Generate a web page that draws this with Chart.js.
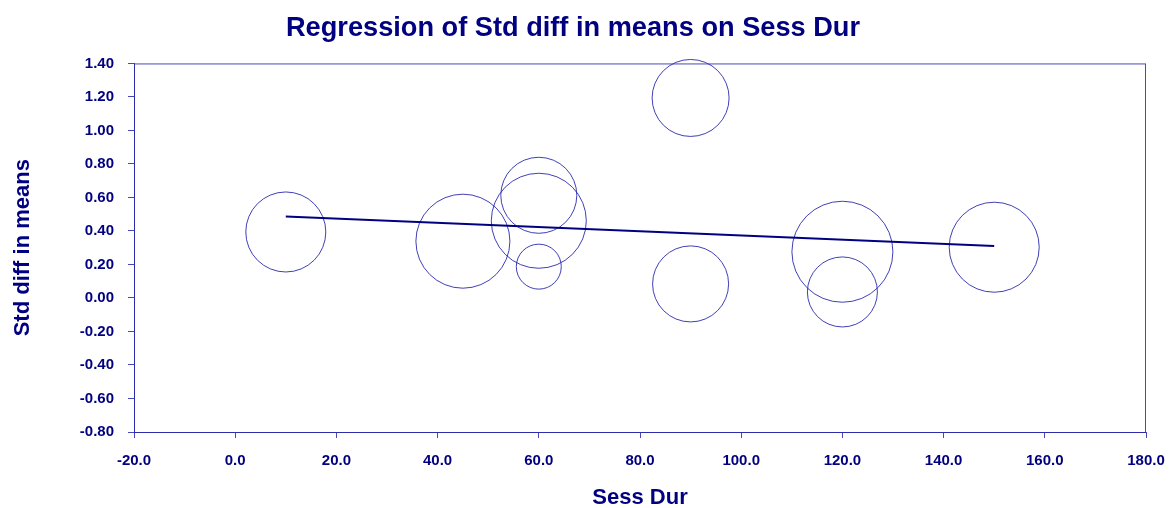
<!DOCTYPE html>
<html>
<head>
<meta charset="utf-8">
<script src="https://cdn.jsdelivr.net/npm/chart.js@4.4.1/dist/chart.umd.min.js"></script>
<style>
  html, body { margin: 0; padding: 0; background: #ffffff; }
  #wrap { width: 1176px; height: 508px; }
</style>
</head>
<body>
<div id="wrap"><canvas id="c" width="1176" height="508"></canvas></div>
<script>
// ---- Data ----
const sessDur = [10, 45, 60, 60, 60, 90, 90, 120, 120, 150];
const stdDiff = [0.394, 0.339, 0.613, 0.461, 0.187, 1.194, 0.084, 0.276, 0.036, 0.303];
const weights = [9.56, 13.20, 8.63, 13.48, 3.02, 8.85, 8.63, 15.23, 7.32, 12.10]; // relative weight (%)
const regX = [10, 150];
const regY = [0.487, 0.310];
const xTicks = [-20, 0, 20, 40, 60, 80, 100, 120, 140, 160, 180];
const yTicks = [-0.8, -0.6, -0.4, -0.2, 0.0, 0.2, 0.4, 0.6, 0.8, 1.0, 1.2, 1.4];

const NAVY = '#000080';
const CIRCLE = 'rgba(30,30,170,0.85)';
const FRAME = 'rgba(40,40,170,0.85)';
const FONT = "'Liberation Sans', Arial, sans-serif";
const SIZE_K = 12.94;

const studies = sessDur.map((x, i) => ({ x: x, y: stdDiff[i] }));
const regLine = regX.map((x, i) => ({ x: x, y: regY[i] }));

const framePlugin = {
  id: 'frame',
  afterDatasetsDraw(chart) {
    const a = chart.chartArea, ctx = chart.ctx;
    ctx.save();
    ctx.strokeStyle = FRAME;
    ctx.lineWidth = 1;
    ctx.strokeRect(a.left + 0.5, a.top + 0.5, a.right - a.left - 1, a.bottom - a.top);
    ctx.restore();
  }
};

new Chart(document.getElementById('c'), {
  type: 'scatter',
  data: {
    datasets: [
      {
        label: 'Regression',
        type: 'line',
        data: regLine,
        borderColor: NAVY,
        borderWidth: 2,
        pointRadius: 0,
        fill: false,
        tension: 0,
        order: 0
      },
      {
        label: 'Studies',
        data: studies,
        pointRadius: weights.map(w => Math.sqrt(w) * SIZE_K),
        pointHoverRadius: weights.map(w => Math.sqrt(w) * SIZE_K),
        backgroundColor: 'rgba(0,0,0,0)',
        borderColor: CIRCLE,
        borderWidth: 1,
        clip: false,
        order: 1
      }
    ]
  },
  plugins: [framePlugin],
  options: {
    responsive: false,
    animation: false,
    events: [],
    layout: { autoPadding: false, padding: { left: 0, right: 30, top: 0, bottom: 0 } },
    plugins: {
      legend: { display: false },
      tooltip: { enabled: false },
      title: {
        display: true,
        text: 'Regression of Std diff in means on Sess Dur',
        color: NAVY,
        font: { family: FONT, size: 27.2, weight: 'bold', lineHeight: 1.2 },
        padding: { top: 12, bottom: 18.8 }
      }
    },
    scales: {
      x: {
        type: 'linear',
        min: -20, max: 180,
        afterBuildTicks: s => { s.ticks = xTicks.map(v => ({ value: v })); },
        afterFit: s => { s.height = 76; s.paddingLeft = 0; s.paddingRight = 0; },
        grid: { drawOnChartArea: false, drawTicks: true, tickLength: 6, color: FRAME },
        border: { color: FRAME, width: 1 },
        ticks: {
          color: NAVY,
          padding: 14,
          maxRotation: 0,
          font: { family: FONT, size: 15, weight: 'bold' },
          callback: v => Number(v).toFixed(1)
        },
        title: {
          display: true,
          text: 'Sess Dur',
          color: NAVY,
          font: { family: FONT, size: 22, weight: 'bold', lineHeight: 1.2 },
          padding: { top: 0, bottom: -3 }
        }
      },
      y: {
        type: 'linear',
        min: -0.8, max: 1.4,
        afterBuildTicks: s => { s.ticks = yTicks.map(v => ({ value: v })); },
        afterFit: s => { s.width = 134; },
        grid: { drawOnChartArea: false, drawTicks: true, tickLength: 6, color: FRAME },
        border: { color: FRAME, width: 1 },
        ticks: {
          color: NAVY,
          padding: 14,
          font: { family: FONT, size: 15, weight: 'bold' },
          callback: v => Number(v).toFixed(2)
        },
        title: {
          display: true,
          text: 'Std diff in means',
          color: NAVY,
          font: { family: FONT, size: 22, weight: 'bold', lineHeight: 1.2 },
          padding: { top: 10, bottom: 0 }
        }
      }
    }
  }
});
</script>
</body>
</html>
